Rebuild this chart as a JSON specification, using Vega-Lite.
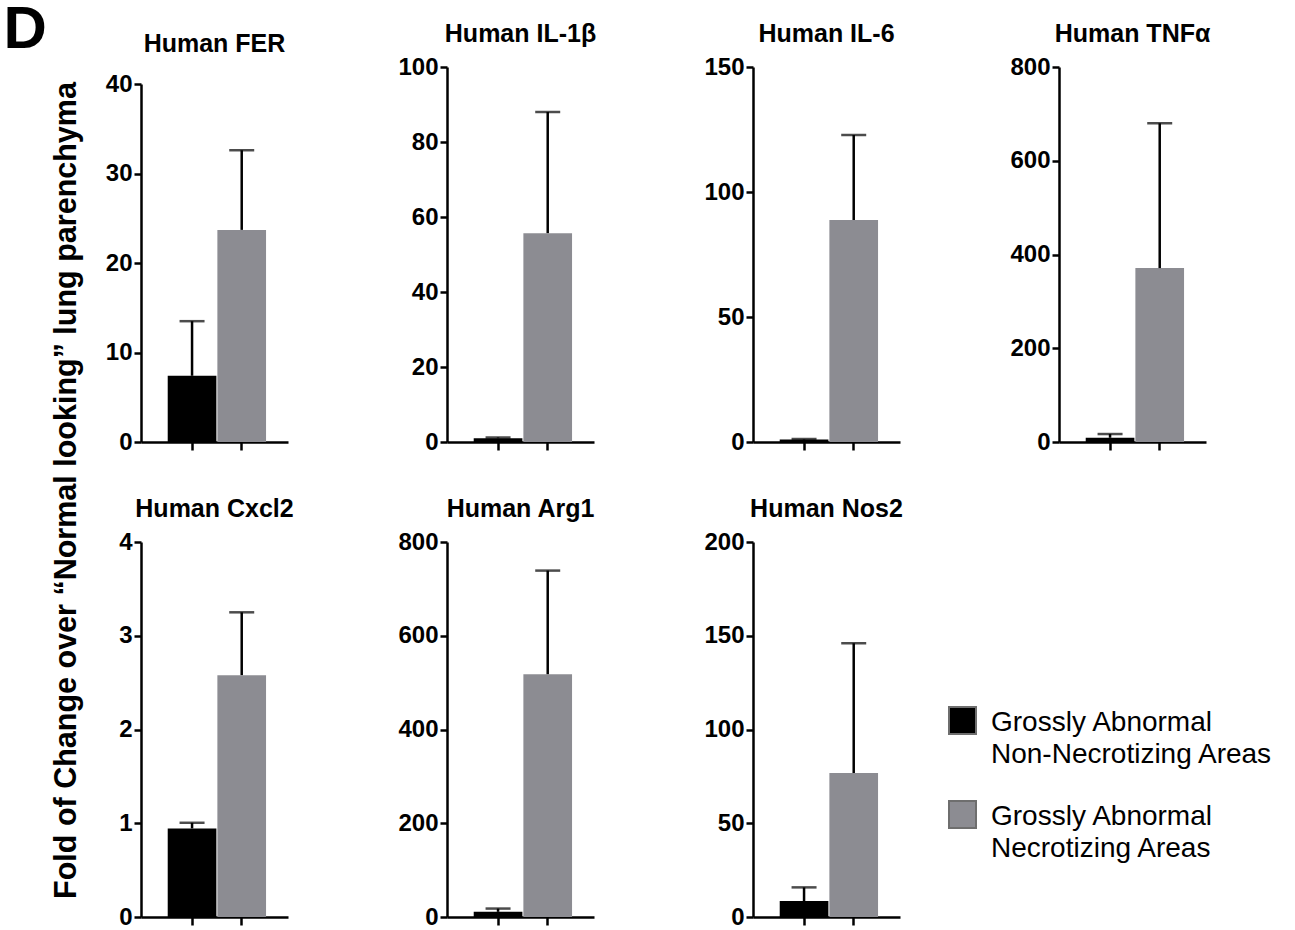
{
  "$schema": "https://vega.github.io/schema/vega-lite/v6.json",
  "padding": {"left": 3, "top": 0, "right": 0, "bottom": 0},
  "background": "white",
  "title": {"text": "D", "anchor": "start", "fontSize": 60, "offset": 0, "dx": -48, "dy": 39},
  "data": {"values": [
    {"gene": "FER", "group": "Grossly Abnormal Non-Necrotizing Areas", "mean": 7.4, "upper": 13.5},
    {"gene": "FER", "group": "Grossly Abnormal Necrotizing Areas", "mean": 23.7, "upper": 32.6},
    {"gene": "IL-1β", "group": "Grossly Abnormal Non-Necrotizing Areas", "mean": 1.0, "upper": 1.2},
    {"gene": "IL-1β", "group": "Grossly Abnormal Necrotizing Areas", "mean": 55.7, "upper": 88},
    {"gene": "IL-6", "group": "Grossly Abnormal Non-Necrotizing Areas", "mean": 1.0, "upper": 1.2},
    {"gene": "IL-6", "group": "Grossly Abnormal Necrotizing Areas", "mean": 88.8, "upper": 122.8},
    {"gene": "TNFα", "group": "Grossly Abnormal Non-Necrotizing Areas", "mean": 9, "upper": 17},
    {"gene": "TNFα", "group": "Grossly Abnormal Necrotizing Areas", "mean": 371, "upper": 680},
    {"gene": "Cxcl2", "group": "Grossly Abnormal Non-Necrotizing Areas", "mean": 0.945, "upper": 1.005},
    {"gene": "Cxcl2", "group": "Grossly Abnormal Necrotizing Areas", "mean": 2.58, "upper": 3.25},
    {"gene": "Arg1", "group": "Grossly Abnormal Non-Necrotizing Areas", "mean": 11, "upper": 18},
    {"gene": "Arg1", "group": "Grossly Abnormal Necrotizing Areas", "mean": 518, "upper": 739},
    {"gene": "Nos2", "group": "Grossly Abnormal Non-Necrotizing Areas", "mean": 8.5, "upper": 15.8},
    {"gene": "Nos2", "group": "Grossly Abnormal Necrotizing Areas", "mean": 76.8, "upper": 146}
  ]},
  "vconcat": [{
    "title": {"text": "Fold of Change over “Normal looking” lung parenchyma", "orient": "left", "anchor": "middle", "fontSize": 30.5, "offset": 4, "dx": -15},
    "columns": 4,
    "spacing": {"row": 43, "column": 98},
    "align": "all",
    "concat": [
      {
        "title": {"text": "Human FER", "offset": 4, "dy": -6},
        "width": 147, "height": 375,
        "transform": [{"filter": "datum.gene === 'FER'"}],
        "encoding": {"x": {"field": "group", "type": "nominal", "title": null, "sort": ["Grossly Abnormal Non-Necrotizing Areas", "Grossly Abnormal Necrotizing Areas"], "scale": {"paddingInner": 0, "paddingOuter": 0.48, "align": 0.55}, "axis": {"labels": false, "title": null}}},
        "layer": [
          {"mark": {"type": "bar", "width": {"band": 0.98}}, "encoding": {
            "y": {"field": "mean", "type": "quantitative", "title": null, "scale": {"domain": [0, 40], "nice": false, "range": [375, 17]}, "axis": {"values": [0, 10, 20, 30, 40], "title": null}},
            "color": {"field": "group", "type": "nominal", "scale": {"domain": ["Grossly Abnormal Non-Necrotizing Areas", "Grossly Abnormal Necrotizing Areas"], "range": ["#000000", "#8c8c92"]}, "legend": {"title": null, "labelBaseline": "top", "labelExpr": "indexof(datum.label, 'Non') >= 0 ? ['Grossly Abnormal', 'Non-Necrotizing Areas'] : ['Grossly Abnormal', 'Necrotizing Areas']", "encode": {"labels": {"update": {"lineHeight": {"value": 32}, "dy": {"value": -12}}}}}}
          }},
          {"mark": {"type": "rule", "color": "black", "strokeWidth": 2.5}, "encoding": {"y": {"field": "mean", "type": "quantitative", "title": null}, "y2": {"field": "upper"}}},
          {"mark": {"type": "tick", "color": "black", "size": 25, "thickness": 2.5}, "encoding": {"y": {"field": "upper", "type": "quantitative", "title": null}}}
        ]
      },
      {
        "title": {"text": "Human IL-1β"},
        "width": 147, "height": 375,
        "transform": [{"filter": "datum.gene === 'IL-1β'"}],
        "encoding": {"x": {"field": "group", "type": "nominal", "title": null, "sort": ["Grossly Abnormal Non-Necrotizing Areas", "Grossly Abnormal Necrotizing Areas"], "scale": {"paddingInner": 0, "paddingOuter": 0.48, "align": 0.55}, "axis": {"labels": false, "title": null}}},
        "layer": [
          {"mark": {"type": "bar", "width": {"band": 0.98}}, "encoding": {
            "y": {"field": "mean", "type": "quantitative", "title": null, "scale": {"domain": [0, 100], "nice": false}, "axis": {"values": [0, 20, 40, 60, 80, 100], "title": null}},
            "color": {"field": "group", "type": "nominal", "scale": {"domain": ["Grossly Abnormal Non-Necrotizing Areas", "Grossly Abnormal Necrotizing Areas"], "range": ["#000000", "#8c8c92"]}, "legend": {"title": null, "labelBaseline": "top", "labelExpr": "indexof(datum.label, 'Non') >= 0 ? ['Grossly Abnormal', 'Non-Necrotizing Areas'] : ['Grossly Abnormal', 'Necrotizing Areas']", "encode": {"labels": {"update": {"lineHeight": {"value": 32}, "dy": {"value": -12}}}}}}
          }},
          {"mark": {"type": "rule", "color": "black", "strokeWidth": 2.5}, "encoding": {"y": {"field": "mean", "type": "quantitative", "title": null}, "y2": {"field": "upper"}}},
          {"mark": {"type": "tick", "color": "black", "size": 25, "thickness": 2.5}, "encoding": {"y": {"field": "upper", "type": "quantitative", "title": null}}}
        ]
      },
      {
        "title": {"text": "Human IL-6"},
        "width": 147, "height": 375,
        "transform": [{"filter": "datum.gene === 'IL-6'"}],
        "encoding": {"x": {"field": "group", "type": "nominal", "title": null, "sort": ["Grossly Abnormal Non-Necrotizing Areas", "Grossly Abnormal Necrotizing Areas"], "scale": {"paddingInner": 0, "paddingOuter": 0.48, "align": 0.55}, "axis": {"labels": false, "title": null}}},
        "layer": [
          {"mark": {"type": "bar", "width": {"band": 0.98}}, "encoding": {
            "y": {"field": "mean", "type": "quantitative", "title": null, "scale": {"domain": [0, 150], "nice": false}, "axis": {"values": [0, 50, 100, 150], "title": null}},
            "color": {"field": "group", "type": "nominal", "scale": {"domain": ["Grossly Abnormal Non-Necrotizing Areas", "Grossly Abnormal Necrotizing Areas"], "range": ["#000000", "#8c8c92"]}, "legend": {"title": null, "labelBaseline": "top", "labelExpr": "indexof(datum.label, 'Non') >= 0 ? ['Grossly Abnormal', 'Non-Necrotizing Areas'] : ['Grossly Abnormal', 'Necrotizing Areas']", "encode": {"labels": {"update": {"lineHeight": {"value": 32}, "dy": {"value": -12}}}}}}
          }},
          {"mark": {"type": "rule", "color": "black", "strokeWidth": 2.5}, "encoding": {"y": {"field": "mean", "type": "quantitative", "title": null}, "y2": {"field": "upper"}}},
          {"mark": {"type": "tick", "color": "black", "size": 25, "thickness": 2.5}, "encoding": {"y": {"field": "upper", "type": "quantitative", "title": null}}}
        ]
      },
      {
        "title": {"text": "Human TNFα"},
        "width": 147, "height": 375,
        "transform": [{"filter": "datum.gene === 'TNFα'"}],
        "encoding": {"x": {"field": "group", "type": "nominal", "title": null, "sort": ["Grossly Abnormal Non-Necrotizing Areas", "Grossly Abnormal Necrotizing Areas"], "scale": {"paddingInner": 0, "paddingOuter": 0.48, "align": 0.55}, "axis": {"labels": false, "title": null}}},
        "layer": [
          {"mark": {"type": "bar", "width": {"band": 0.98}}, "encoding": {
            "y": {"field": "mean", "type": "quantitative", "title": null, "scale": {"domain": [0, 800], "nice": false}, "axis": {"values": [0, 200, 400, 600, 800], "title": null}},
            "color": {"field": "group", "type": "nominal", "scale": {"domain": ["Grossly Abnormal Non-Necrotizing Areas", "Grossly Abnormal Necrotizing Areas"], "range": ["#000000", "#8c8c92"]}, "legend": {"title": null, "labelBaseline": "top", "labelExpr": "indexof(datum.label, 'Non') >= 0 ? ['Grossly Abnormal', 'Non-Necrotizing Areas'] : ['Grossly Abnormal', 'Necrotizing Areas']", "encode": {"labels": {"update": {"lineHeight": {"value": 32}, "dy": {"value": -12}}}}}}
          }},
          {"mark": {"type": "rule", "color": "black", "strokeWidth": 2.5}, "encoding": {"y": {"field": "mean", "type": "quantitative", "title": null}, "y2": {"field": "upper"}}},
          {"mark": {"type": "tick", "color": "black", "size": 25, "thickness": 2.5}, "encoding": {"y": {"field": "upper", "type": "quantitative", "title": null}}}
        ]
      },
      {
        "title": {"text": "Human Cxcl2"},
        "width": 147, "height": 375,
        "transform": [{"filter": "datum.gene === 'Cxcl2'"}],
        "encoding": {"x": {"field": "group", "type": "nominal", "title": null, "sort": ["Grossly Abnormal Non-Necrotizing Areas", "Grossly Abnormal Necrotizing Areas"], "scale": {"paddingInner": 0, "paddingOuter": 0.48, "align": 0.55}, "axis": {"labels": false, "title": null}}},
        "layer": [
          {"mark": {"type": "bar", "width": {"band": 0.98}}, "encoding": {
            "y": {"field": "mean", "type": "quantitative", "title": null, "scale": {"domain": [0, 4], "nice": false}, "axis": {"values": [0, 1, 2, 3, 4], "format": "d", "title": null}},
            "color": {"field": "group", "type": "nominal", "scale": {"domain": ["Grossly Abnormal Non-Necrotizing Areas", "Grossly Abnormal Necrotizing Areas"], "range": ["#000000", "#8c8c92"]}, "legend": {"title": null, "labelBaseline": "top", "labelExpr": "indexof(datum.label, 'Non') >= 0 ? ['Grossly Abnormal', 'Non-Necrotizing Areas'] : ['Grossly Abnormal', 'Necrotizing Areas']", "encode": {"labels": {"update": {"lineHeight": {"value": 32}, "dy": {"value": -12}}}}}}
          }},
          {"mark": {"type": "rule", "color": "black", "strokeWidth": 2.5}, "encoding": {"y": {"field": "mean", "type": "quantitative", "title": null}, "y2": {"field": "upper"}}},
          {"mark": {"type": "tick", "color": "black", "size": 25, "thickness": 2.5}, "encoding": {"y": {"field": "upper", "type": "quantitative", "title": null}}}
        ]
      },
      {
        "title": {"text": "Human Arg1"},
        "width": 147, "height": 375,
        "transform": [{"filter": "datum.gene === 'Arg1'"}],
        "encoding": {"x": {"field": "group", "type": "nominal", "title": null, "sort": ["Grossly Abnormal Non-Necrotizing Areas", "Grossly Abnormal Necrotizing Areas"], "scale": {"paddingInner": 0, "paddingOuter": 0.48, "align": 0.55}, "axis": {"labels": false, "title": null}}},
        "layer": [
          {"mark": {"type": "bar", "width": {"band": 0.98}}, "encoding": {
            "y": {"field": "mean", "type": "quantitative", "title": null, "scale": {"domain": [0, 800], "nice": false}, "axis": {"values": [0, 200, 400, 600, 800], "title": null}},
            "color": {"field": "group", "type": "nominal", "scale": {"domain": ["Grossly Abnormal Non-Necrotizing Areas", "Grossly Abnormal Necrotizing Areas"], "range": ["#000000", "#8c8c92"]}, "legend": {"title": null, "labelBaseline": "top", "labelExpr": "indexof(datum.label, 'Non') >= 0 ? ['Grossly Abnormal', 'Non-Necrotizing Areas'] : ['Grossly Abnormal', 'Necrotizing Areas']", "encode": {"labels": {"update": {"lineHeight": {"value": 32}, "dy": {"value": -12}}}}}}
          }},
          {"mark": {"type": "rule", "color": "black", "strokeWidth": 2.5}, "encoding": {"y": {"field": "mean", "type": "quantitative", "title": null}, "y2": {"field": "upper"}}},
          {"mark": {"type": "tick", "color": "black", "size": 25, "thickness": 2.5}, "encoding": {"y": {"field": "upper", "type": "quantitative", "title": null}}}
        ]
      },
      {
        "title": {"text": "Human Nos2"},
        "width": 147, "height": 375,
        "transform": [{"filter": "datum.gene === 'Nos2'"}],
        "encoding": {"x": {"field": "group", "type": "nominal", "title": null, "sort": ["Grossly Abnormal Non-Necrotizing Areas", "Grossly Abnormal Necrotizing Areas"], "scale": {"paddingInner": 0, "paddingOuter": 0.48, "align": 0.55}, "axis": {"labels": false, "title": null}}},
        "layer": [
          {"mark": {"type": "bar", "width": {"band": 0.98}}, "encoding": {
            "y": {"field": "mean", "type": "quantitative", "title": null, "scale": {"domain": [0, 200], "nice": false}, "axis": {"values": [0, 50, 100, 150, 200], "title": null}},
            "color": {"field": "group", "type": "nominal", "scale": {"domain": ["Grossly Abnormal Non-Necrotizing Areas", "Grossly Abnormal Necrotizing Areas"], "range": ["#000000", "#8c8c92"]}, "legend": {"title": null, "labelBaseline": "top", "labelExpr": "indexof(datum.label, 'Non') >= 0 ? ['Grossly Abnormal', 'Non-Necrotizing Areas'] : ['Grossly Abnormal', 'Necrotizing Areas']", "encode": {"labels": {"update": {"lineHeight": {"value": 32}, "dy": {"value": -12}}}}}}
          }},
          {"mark": {"type": "rule", "color": "black", "strokeWidth": 2.5}, "encoding": {"y": {"field": "mean", "type": "quantitative", "title": null}, "y2": {"field": "upper"}}},
          {"mark": {"type": "tick", "color": "black", "size": 25, "thickness": 2.5}, "encoding": {"y": {"field": "upper", "type": "quantitative", "title": null}}}
        ]
      }
    ]
  }],
  "config": {
    "font": "Liberation Sans",
    "view": {"stroke": null},
    "axis": {"domainColor": "#000000", "domainWidth": 2.5, "tickColor": "#000000", "tickWidth": 2.5, "tickSize": 7, "labelFont": "Liberation Sans", "labelFontSize": 24, "labelFontWeight": "bold", "labelColor": "#000000", "labelPadding": 2, "grid": false},
    "axisY": {"minExtent": 55, "maxExtent": 55},
    "axisX": {"tickSize": 8},
    "title": {"font": "Liberation Sans", "fontSize": 25, "fontWeight": "bold", "color": "#000000", "offset": 8},
    "legend": {"orient": "none", "legendX": 807, "legendY": 639, "symbolType": "square", "symbolSize": 729, "symbolStrokeColor": "#6e6e6e", "symbolStrokeWidth": 2, "symbolOpacity": 1, "labelFont": "Liberation Sans", "labelFontSize": 28, "labelColor": "#000000", "labelOffset": 14, "rowPadding": 28, "labelLimit": 400, "padding": 0}
  }
}
